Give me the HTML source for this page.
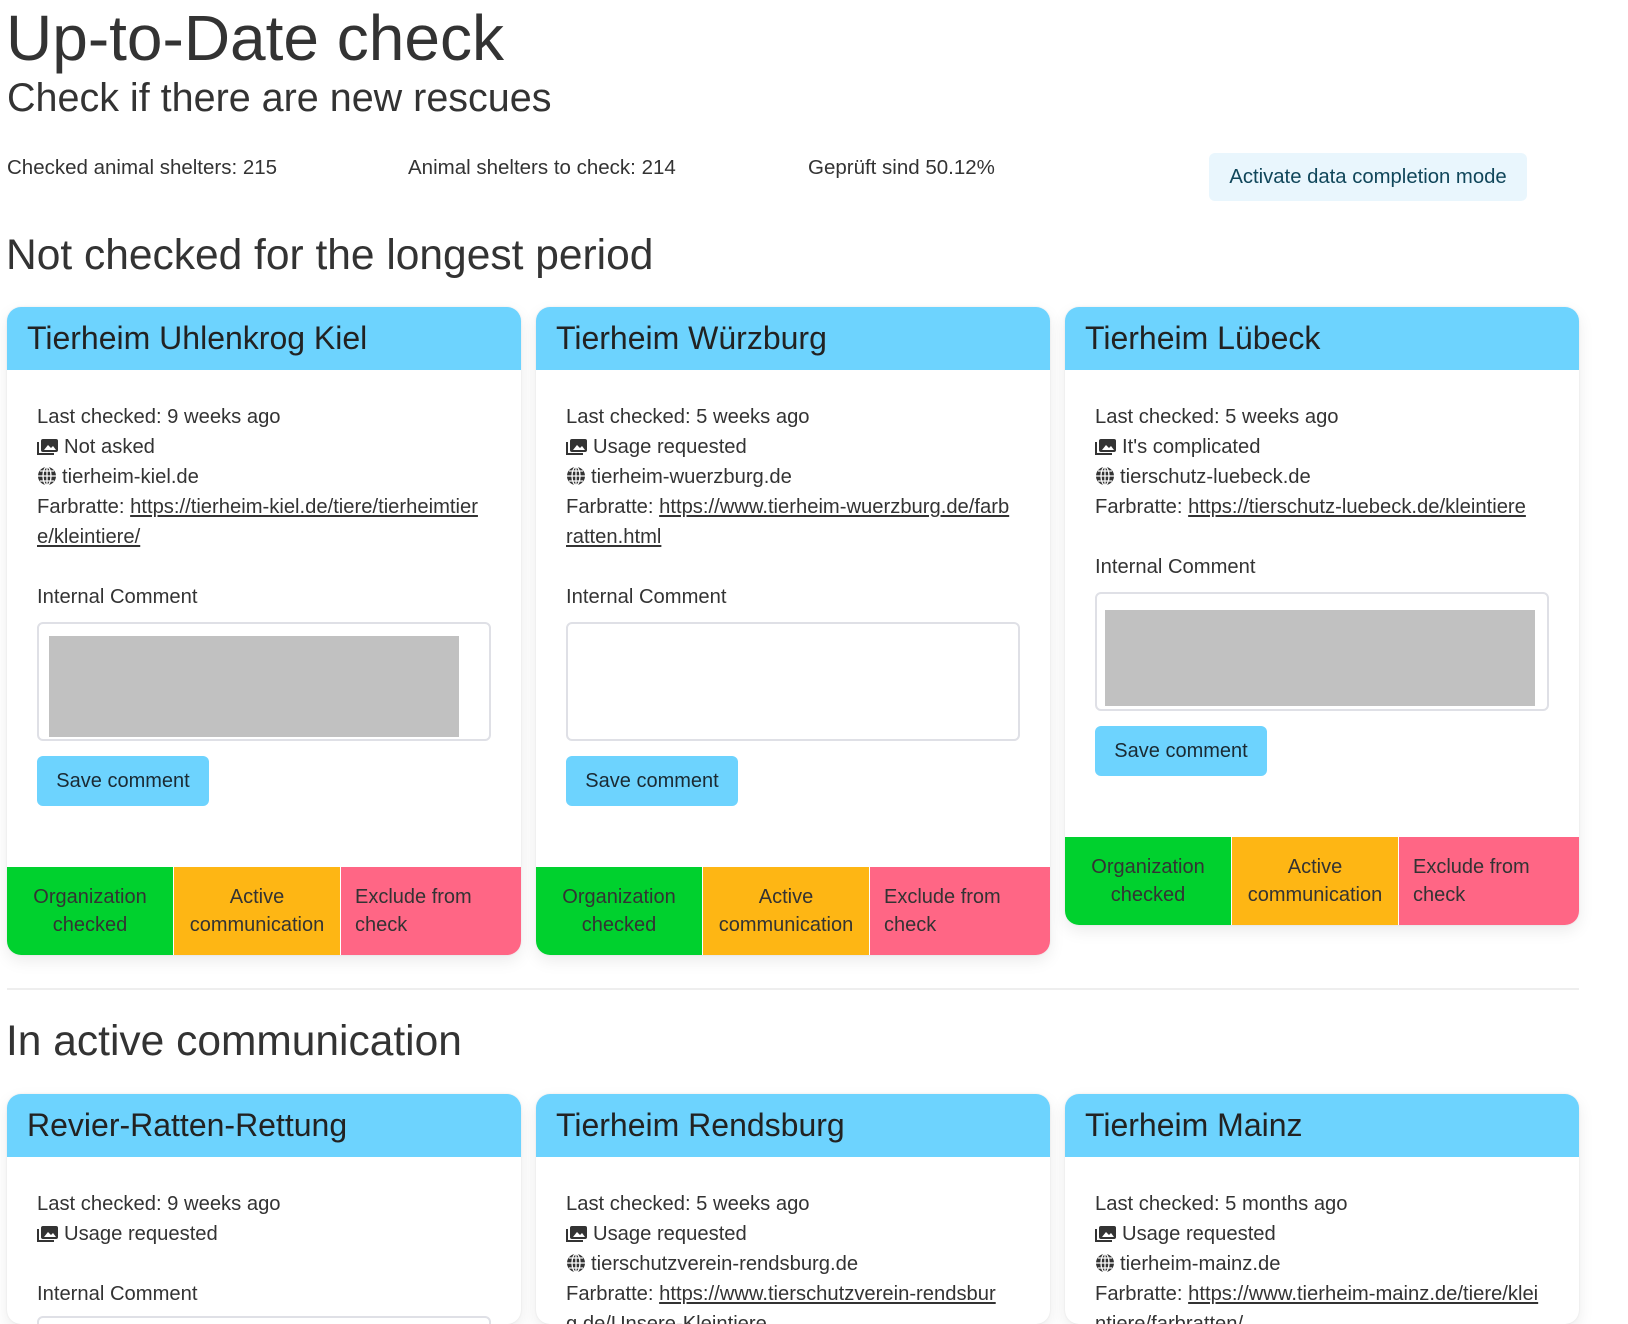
<!DOCTYPE html>
<html><head><meta charset="utf-8">
<style>
*{box-sizing:border-box;margin:0;padding:0}
html,body{overflow:hidden}
body{width:1628px;height:1324px;background:#fff;font-family:"Liberation Sans",sans-serif;color:#333;position:relative}
.a{position:absolute;white-space:nowrap}
.card{position:absolute;width:514px;background:#fff;border-radius:14px;box-shadow:0 6px 16px rgba(0,0,0,.08),0 0 2px rgba(0,0,0,.08);overflow:hidden}
.hd{position:absolute;left:0;top:0;width:100%;height:63px;background:#6dd3fe;font-size:32px;color:#222;padding-left:20px;line-height:63px}
.ln{position:absolute;left:30px;font-size:20.2px;line-height:30px;color:#333;white-space:nowrap}
.ln a{color:#333;text-decoration:underline}
.ta{position:absolute;left:30px;width:454px;border:2px solid #dfe0e6;border-radius:6px;background:#fff}
.gr{position:absolute;background:#c1c1c1}
.sv{position:absolute;left:30px;width:172px;height:50px;background:#6dd3fe;border-radius:6px;font-size:20px;line-height:50px;text-align:center;color:#1a2a33}
.ft{position:absolute;left:0;width:100%;height:88px;display:flex}
.ft div{flex:1;font-size:20px;line-height:28px;display:flex;align-items:center;justify-content:center;text-align:center;color:#333}
.ft .g{background:#00d12e;border-right:1px solid #fff}
.ft .o{background:#feb614;border-right:1px solid #fff}
.ft .p{background:#ff6685;justify-content:flex-start;text-align:left;padding-left:14px}
svg{vertical-align:-3px;margin-right:5px}
</style></head><body>
<div class="a" style="left:6px;top:2px;font-size:64px;line-height:72px;color:#333">Up-to-Date check</div>
<div class="a" style="left:7px;top:75px;font-size:39.5px;line-height:46px;color:#333">Check if there are new rescues</div>
<div class="a" style="left:7px;top:155px;font-size:20.5px;line-height:26px">Checked animal shelters: 215</div>
<div class="a" style="left:408px;top:155px;font-size:20.5px;line-height:26px">Animal shelters to check: 214</div>
<div class="a" style="left:808px;top:155px;font-size:20.5px;line-height:26px">Geprüft sind 50.12%</div>
<div class="a" style="left:1209px;top:153px;width:318px;height:48px;background:#e9f6fd;border-radius:6px;font-size:20.3px;line-height:48px;text-align:center;color:#10465a">Activate data completion mode</div>
<div class="a" style="left:6px;top:231px;font-size:42.5px;line-height:50px">Not checked for the longest period</div>

<div class="card" style="left:7px;top:307px;height:648px">
<div class="hd">Tierheim Uhlenkrog Kiel</div>
<div class="ln" style="top:95px">Last checked: 9 weeks ago</div>
<div class="ln" style="top:125px"><svg width="22" height="18" viewBox="0 0 22 18"><rect x="4" y="1" width="17" height="13" rx="2" fill="#333"/><path d="M7 12l4-5 3 3 2-2 3 4z" fill="#fff"/><path d="M1 4v12h16" stroke="#333" stroke-width="2" fill="none"/></svg>Not asked</div>
<div class="ln" style="top:155px"><svg width="20" height="20" viewBox="0 0 20 20"><circle cx="10" cy="10" r="9" fill="#333"/><path d="M1 10h18M10 1v18M3 5h14M3 15h14" stroke="#fff" stroke-width="1.3"/><ellipse cx="10" cy="10" rx="4" ry="9" stroke="#fff" stroke-width="1.3" fill="none"/></svg>tierheim-kiel.de</div>
<div class="ln" style="top:185px">Farbratte: <a>https://tierheim-kiel.de/tiere/tierheimtier</a></div>
<div class="ln" style="top:215px"><a>e/kleintiere/</a></div>
<div class="ln" style="top:275px">Internal Comment</div>
<div class="ta" style="top:315px;height:119px"></div>
<div class="gr" style="left:42px;top:329px;width:410px;height:101px"></div>
<div class="sv" style="top:449px">Save comment</div>
<div class="ft" style="top:560px"><div class="g">Organization<br>checked</div><div class="o">Active<br>communication</div><div class="p">Exclude from<br>check</div></div>
</div>

<div class="card" style="left:536px;top:307px;height:648px">
<div class="hd">Tierheim Würzburg</div>
<div class="ln" style="top:95px">Last checked: 5 weeks ago</div>
<div class="ln" style="top:125px"><svg width="22" height="18" viewBox="0 0 22 18"><rect x="4" y="1" width="17" height="13" rx="2" fill="#333"/><path d="M7 12l4-5 3 3 2-2 3 4z" fill="#fff"/><path d="M1 4v12h16" stroke="#333" stroke-width="2" fill="none"/></svg>Usage requested</div>
<div class="ln" style="top:155px"><svg width="20" height="20" viewBox="0 0 20 20"><circle cx="10" cy="10" r="9" fill="#333"/><path d="M1 10h18M10 1v18M3 5h14M3 15h14" stroke="#fff" stroke-width="1.3"/><ellipse cx="10" cy="10" rx="4" ry="9" stroke="#fff" stroke-width="1.3" fill="none"/></svg>tierheim-wuerzburg.de</div>
<div class="ln" style="top:185px">Farbratte: <a>https://www.tierheim-wuerzburg.de/farb</a></div>
<div class="ln" style="top:215px"><a>ratten.html</a></div>
<div class="ln" style="top:275px">Internal Comment</div>
<div class="ta" style="top:315px;height:119px"></div>
<div class="sv" style="top:449px">Save comment</div>
<div class="ft" style="top:560px"><div class="g">Organization<br>checked</div><div class="o">Active<br>communication</div><div class="p">Exclude from<br>check</div></div>
</div>

<div class="card" style="left:1065px;top:307px;height:618px">
<div class="hd">Tierheim Lübeck</div>
<div class="ln" style="top:95px">Last checked: 5 weeks ago</div>
<div class="ln" style="top:125px"><svg width="22" height="18" viewBox="0 0 22 18"><rect x="4" y="1" width="17" height="13" rx="2" fill="#333"/><path d="M7 12l4-5 3 3 2-2 3 4z" fill="#fff"/><path d="M1 4v12h16" stroke="#333" stroke-width="2" fill="none"/></svg>It's complicated</div>
<div class="ln" style="top:155px"><svg width="20" height="20" viewBox="0 0 20 20"><circle cx="10" cy="10" r="9" fill="#333"/><path d="M1 10h18M10 1v18M3 5h14M3 15h14" stroke="#fff" stroke-width="1.3"/><ellipse cx="10" cy="10" rx="4" ry="9" stroke="#fff" stroke-width="1.3" fill="none"/></svg>tierschutz-luebeck.de</div>
<div class="ln" style="top:185px">Farbratte: <a>https://tierschutz-luebeck.de/kleintiere</a></div>
<div class="ln" style="top:245px">Internal Comment</div>
<div class="ta" style="top:285px;height:119px"></div>
<div class="gr" style="left:40px;top:303px;width:430px;height:96px"></div>
<div class="sv" style="top:419px">Save comment</div>
<div class="ft" style="top:530px"><div class="g">Organization<br>checked</div><div class="o">Active<br>communication</div><div class="p">Exclude from<br>check</div></div>
</div>

<div class="a" style="left:7px;top:988px;width:1572px;height:2px;background:#eee"></div>
<div class="a" style="left:6px;top:1017px;font-size:42.5px;line-height:50px">In active communication</div>

<div class="card" style="left:7px;top:1094px;height:230px">
<div class="hd">Revier-Ratten-Rettung</div>
<div class="ln" style="top:95px">Last checked: 9 weeks ago</div>
<div class="ln" style="top:125px"><svg width="22" height="18" viewBox="0 0 22 18"><rect x="4" y="1" width="17" height="13" rx="2" fill="#333"/><path d="M7 12l4-5 3 3 2-2 3 4z" fill="#fff"/><path d="M1 4v12h16" stroke="#333" stroke-width="2" fill="none"/></svg>Usage requested</div>
<div class="ln" style="top:185px">Internal Comment</div>
<div class="ta" style="top:222px;height:119px"></div>
</div>
<div class="card" style="left:536px;top:1094px;height:230px">
<div class="hd">Tierheim Rendsburg</div>
<div class="ln" style="top:95px">Last checked: 5 weeks ago</div>
<div class="ln" style="top:125px"><svg width="22" height="18" viewBox="0 0 22 18"><rect x="4" y="1" width="17" height="13" rx="2" fill="#333"/><path d="M7 12l4-5 3 3 2-2 3 4z" fill="#fff"/><path d="M1 4v12h16" stroke="#333" stroke-width="2" fill="none"/></svg>Usage requested</div>
<div class="ln" style="top:155px"><svg width="20" height="20" viewBox="0 0 20 20"><circle cx="10" cy="10" r="9" fill="#333"/><path d="M1 10h18M10 1v18M3 5h14M3 15h14" stroke="#fff" stroke-width="1.3"/><ellipse cx="10" cy="10" rx="4" ry="9" stroke="#fff" stroke-width="1.3" fill="none"/></svg>tierschutzverein-rendsburg.de</div>
<div class="ln" style="top:185px">Farbratte: <a>https://www.tierschutzverein-rendsbur</a></div>
<div class="ln" style="top:215px"><a>g.de/Unsere-Kleintiere</a></div>
</div>
<div class="card" style="left:1065px;top:1094px;height:230px">
<div class="hd">Tierheim Mainz</div>
<div class="ln" style="top:95px">Last checked: 5 months ago</div>
<div class="ln" style="top:125px"><svg width="22" height="18" viewBox="0 0 22 18"><rect x="4" y="1" width="17" height="13" rx="2" fill="#333"/><path d="M7 12l4-5 3 3 2-2 3 4z" fill="#fff"/><path d="M1 4v12h16" stroke="#333" stroke-width="2" fill="none"/></svg>Usage requested</div>
<div class="ln" style="top:155px"><svg width="20" height="20" viewBox="0 0 20 20"><circle cx="10" cy="10" r="9" fill="#333"/><path d="M1 10h18M10 1v18M3 5h14M3 15h14" stroke="#fff" stroke-width="1.3"/><ellipse cx="10" cy="10" rx="4" ry="9" stroke="#fff" stroke-width="1.3" fill="none"/></svg>tierheim-mainz.de</div>
<div class="ln" style="top:185px">Farbratte: <a>https://www.tierheim-mainz.de/tiere/klei</a></div>
<div class="ln" style="top:215px"><a>ntiere/farbratten/</a></div>
</div>
</body></html>
